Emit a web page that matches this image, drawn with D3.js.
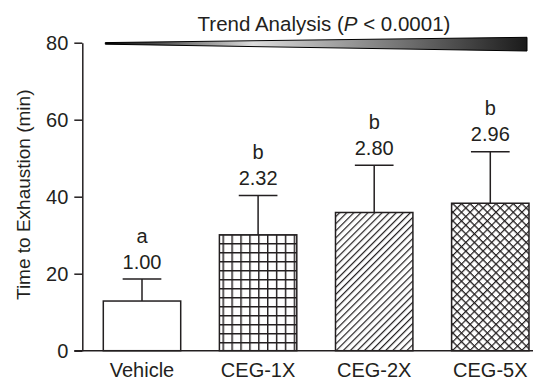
<!DOCTYPE html>
<html>
<head>
<meta charset="utf-8">
<script src="https://cdn.jsdelivr.net/npm/d3@7"></script>
<style>
  body { margin: 0; background: #fff; }
  text { font-family: "Liberation Sans", Arial, sans-serif; fill: #231f20; }
</style>
</head>
<body>
<script>
// data
var groups = ["Vehicle", "CEG-1X", "CEG-2X", "CEG-5X"];
var means = [12.9, 30.1, 35.9, 38.3];
var sds = [5.7, 10.2, 12.3, 13.4];
var folds = ["1.00", "2.32", "2.80", "2.96"];
var letters = ["a", "b", "b", "b"];
var patterns = ["none", "grid", "diag", "cross"];
var yTicks = [0, 20, 40, 60, 80];

var W = 533, H = 381;
var ink = "#231f20";

var svg = d3.select("body").append("svg")
    .attr("width", W)
    .attr("height", H);

var defs = svg.append("defs");

// square grid
var pg = defs.append("pattern").attr("id", "grid")
    .attr("patternUnits", "userSpaceOnUse")
    .attr("width", 8.9).attr("height", 9);
pg.append("path").attr("d", "M0.7,0V9M0,0.7H8.9")
    .attr("stroke", ink).attr("stroke-width", 1.5).attr("fill", "none");

// single diagonal hatch
var pd = defs.append("pattern").attr("id", "diag")
    .attr("patternUnits", "userSpaceOnUse")
    .attr("width", 5).attr("height", 10)
    .attr("patternTransform", "rotate(45)");
pd.append("path").attr("d", "M0.6,0V10")
    .attr("stroke", ink).attr("stroke-width", 1.2).attr("fill", "none");

// cross hatch
var pc = defs.append("pattern").attr("id", "cross")
    .attr("patternUnits", "userSpaceOnUse")
    .attr("width", 6.1).attr("height", 6.1)
    .attr("patternTransform", "rotate(45)");
pc.append("path").attr("d", "M0.6,0V6.1M0,0.6H6.1")
    .attr("stroke", ink).attr("stroke-width", 1.2).attr("fill", "none");

// wedge gradient
var lg = defs.append("linearGradient").attr("id", "wedge")
    .attr("x1", 0).attr("x2", 1).attr("y1", 0).attr("y2", 0);
lg.append("stop").attr("offset", "0%").attr("stop-color", "#000");
lg.append("stop").attr("offset", "35%").attr("stop-color", "#dcdcdc");
lg.append("stop").attr("offset", "100%").attr("stop-color", "#1a1a1a");

var y = d3.scaleLinear()
    .domain([0, 80])
    .range([350.7, 42.7]);

var x = d3.scaleBand()
    .domain(groups)
    .range([103.3, 529])
    .paddingInner(1 / 3)
    .paddingOuter(0);

var axisX = 82.3;

// y axis
var yAxis = d3.axisLeft(y)
    .tickValues(yTicks)
    .tickSize(8)
    .tickSizeOuter(0)
    .tickPadding(6);

var gy = svg.append("g")
    .attr("transform", "translate(" + axisX + ",0)")
    .call(yAxis);
gy.select(".domain").attr("stroke", ink).attr("stroke-width", 1.5);
gy.selectAll(".tick line").attr("stroke", ink).attr("stroke-width", 1.5);
gy.selectAll(".tick text")
    .attr("font-size", 20)
    .attr("fill", ink)
    .style("font-family", "Liberation Sans, Arial, sans-serif");

// baseline
svg.append("line")
    .attr("x1", axisX - 8).attr("x2", W)
    .attr("y1", y(0)).attr("y2", y(0))
    .attr("stroke", ink).attr("stroke-width", 1.5);

svg.append("text")
    .attr("transform", "translate(30," + y(40.5) + ") rotate(-90)")
    .attr("text-anchor", "middle")
    .attr("font-size", 19)
    .text("Time to Exhaustion (min)");

var idx = d3.range(groups.length);

// error bars
var cap = x.bandwidth() / 2;
svg.selectAll(".err").data(idx).enter().append("path")
    .attr("class", "err")
    .attr("d", function (i) {
        var cx = x(groups[i]) + x.bandwidth() / 2;
        var top = y(means[i] + sds[i]);
        return "M" + cx + "," + y(means[i]) + "V" + top +
            "M" + (cx - cap / 2) + "," + top + "H" + (cx + cap / 2);
    })
    .attr("stroke", ink).attr("stroke-width", 1.5).attr("fill", "none");

// bars
svg.selectAll(".bar").data(idx).enter().append("rect")
    .attr("class", "bar")
    .attr("x", function (i) { return x(groups[i]); })
    .attr("y", function (i) { return y(means[i]); })
    .attr("width", x.bandwidth())
    .attr("height", function (i) { return y(0) - y(means[i]); })
    .attr("fill", function (i) { return patterns[i] === "none" ? "#fff" : "url(#" + patterns[i] + ")"; })
    .attr("stroke", ink).attr("stroke-width", 1.5);

// fold labels and letters
svg.selectAll(".fold").data(idx).enter().append("text")
    .attr("class", "fold")
    .attr("x", function (i) { return x(groups[i]) + x.bandwidth() / 2; })
    .attr("y", function (i) { return y(means[i] + sds[i]) - 10.5; })
    .attr("text-anchor", "middle")
    .attr("font-size", 20)
    .text(function (i) { return folds[i]; });

svg.selectAll(".letter").data(idx).enter().append("text")
    .attr("class", "letter")
    .attr("x", function (i) { return x(groups[i]) + x.bandwidth() / 2; })
    .attr("y", function (i) { return y(means[i] + sds[i]) - 36.5; })
    .attr("text-anchor", "middle")
    .attr("font-size", 20)
    .text(function (i) { return letters[i]; });

// category labels
svg.selectAll(".cat").data(groups).enter().append("text")
    .attr("class", "cat")
    .attr("x", function (d) { return x(d) + x.bandwidth() / 2; })
    .attr("y", 377)
    .attr("text-anchor", "middle")
    .attr("font-size", 20)
    .text(function (d) { return d; });

// trend wedge
var wx0 = x(groups[0]) + 2, wx1 = x(groups[3]) + x.bandwidth() - 2;
svg.append("path")
    .attr("d", "M" + wx0 + ",42.6L" + wx1 + ",37.3V51L" + wx0 + ",44.2Z")
    .attr("fill", "url(#wedge)")
    .attr("stroke", "#000").attr("stroke-width", 1);

var title = svg.append("text")
    .attr("x", 324).attr("y", 31)
    .attr("text-anchor", "middle")
    .attr("font-size", 20.5);
title.append("tspan").text("Trend Analysis (");
title.append("tspan").attr("font-style", "italic").text("P");
title.append("tspan").text(" < 0.0001)");
</script>
</body>
</html>
